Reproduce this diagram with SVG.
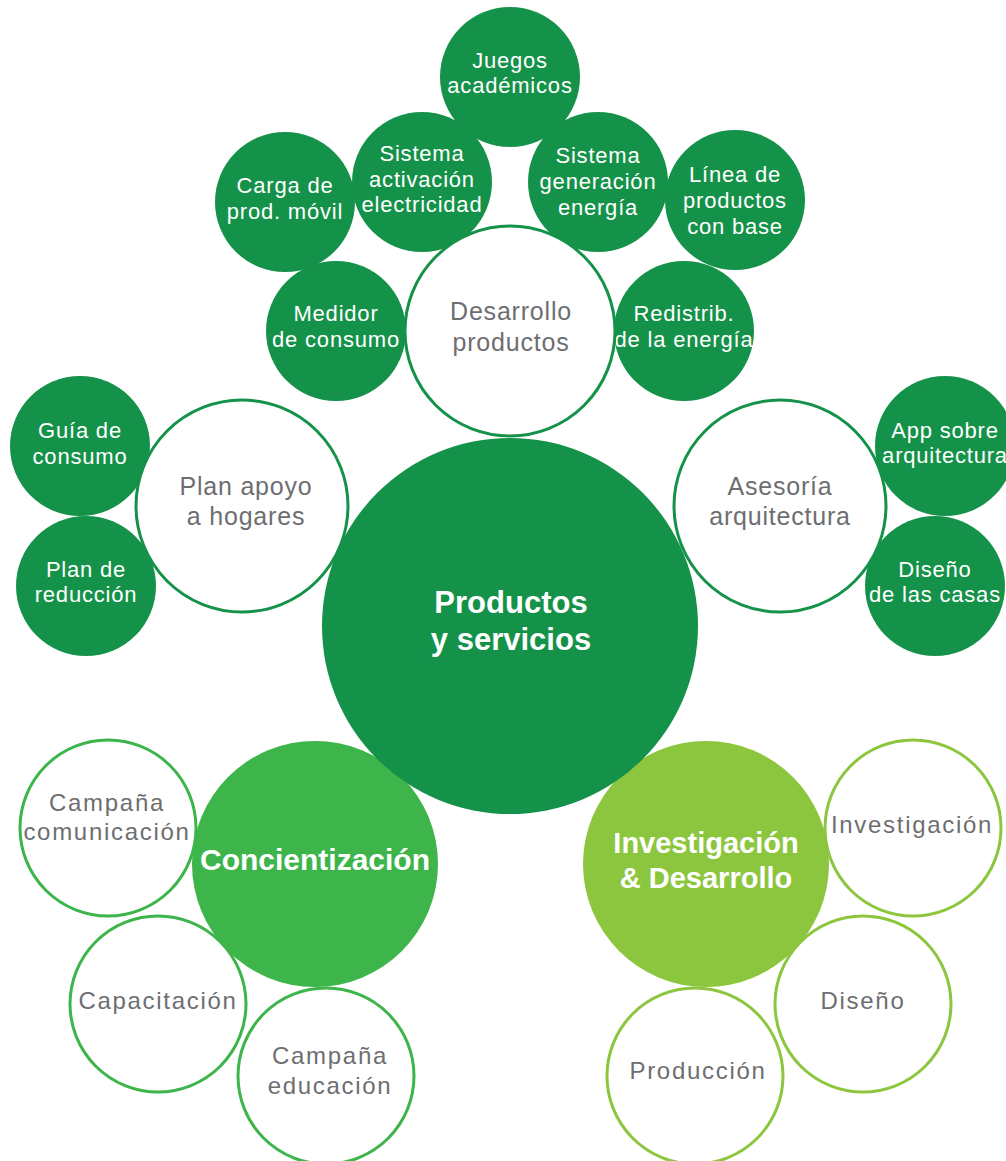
<svg xmlns="http://www.w3.org/2000/svg" width="1006" height="1161" viewBox="0 0 1006 1161">
<style>
text{font-family:"Liberation Sans",Arial,sans-serif;text-anchor:middle}
.dk{fill:#159249}
.md{fill:#3db54b}
.lt{fill:#8cc63f}
.wd{fill:#fff;stroke:#159249;stroke-width:3}
.wm{fill:#fff;stroke:#3db54b;stroke-width:3}
.wl{fill:#fff;stroke:#8cc63f;stroke-width:3}
.s{font-size:22px;fill:#fff;letter-spacing:0.8px}
.m{font-size:25px;fill:#6d6e71;letter-spacing:0.8px}
.b{font-size:24px;fill:#6d6e71;letter-spacing:1.7px}
.h{font-weight:bold;fill:#fff}
</style>
<rect width="1006" height="1161" fill="#fff"/>
<g id="connectors"/>
<g id="juegos"><circle class="dk" cx="510" cy="77" r="70"/><text class="s" x="510" y="68">Juegos</text><text class="s" x="510" y="93">académicos</text></g>
<g id="carga"><circle class="dk" cx="285" cy="202" r="70"/><text class="s" x="285" y="193">Carga de</text><text class="s" x="285" y="219">prod. móvil</text></g>
<g id="linea"><circle class="dk" cx="735" cy="200" r="70"/><text class="s" x="735" y="182">Línea de</text><text class="s" x="735" y="208">productos</text><text class="s" x="735" y="234">con base</text></g>
<g id="sis-activacion"><circle class="dk" cx="422" cy="182" r="70"/><text class="s" x="422" y="161">Sistema</text><text class="s" x="422" y="187">activación</text><text class="s" x="422" y="212">electricidad</text></g>
<g id="sis-generacion"><circle class="dk" cx="598" cy="182" r="70"/><text class="s" x="598" y="163">Sistema</text><text class="s" x="598" y="189">generación</text><text class="s" x="598" y="215">energía</text></g>
<g id="medidor"><circle class="dk" cx="336" cy="331" r="70"/><text class="s" x="336" y="321">Medidor</text><text class="s" x="336" y="347">de consumo</text></g>
<g id="redistrib"><circle class="dk" cx="684" cy="331" r="70"/><text class="s" x="684" y="321">Redistrib.</text><text class="s" x="684" y="347">de la energía</text></g>
<g id="desarrollo"><circle class="wd" cx="510" cy="331" r="105"/><text class="m" x="511" y="320">Desarrollo</text><text class="m" x="511" y="351">productos</text></g>
<g id="guia"><circle class="dk" cx="80" cy="446" r="70"/><text class="s" x="80" y="438">Guía de</text><text class="s" x="80" y="464">consumo</text></g>
<g id="plan-reduccion"><circle class="dk" cx="86" cy="586" r="70"/><text class="s" x="86" y="577">Plan de</text><text class="s" x="86" y="602">reducción</text></g>
<g id="plan-apoyo"><circle class="wd" cx="242" cy="506" r="106"/><text class="m" x="246" y="495">Plan apoyo</text><text class="m" x="246" y="525">a hogares</text></g>
<g id="app"><circle class="dk" cx="945" cy="446" r="70"/><text class="s" x="945" y="438">App sobre</text><text class="s" x="945" y="463">arquitectura</text></g>
<g id="diseno-casas"><circle class="dk" cx="935" cy="586" r="70"/><text class="s" x="935" y="577">Diseño</text><text class="s" x="935" y="602">de las casas</text></g>
<g id="asesoria"><circle class="wd" cx="780" cy="506" r="106"/><text class="m" x="780" y="495">Asesoría</text><text class="m" x="780" y="525">arquitectura</text></g>
<g id="concientizacion"><circle class="md" cx="315" cy="864" r="123"/><text class="h" x="315" y="870" font-size="30">Concientización</text></g>
<g id="id"><circle class="lt" cx="706" cy="864" r="123"/><text class="h" x="706" y="853" font-size="29">Investigación</text><text class="h" x="706" y="888" font-size="29">&amp; Desarrollo</text></g>
<g id="productos-servicios"><circle class="dk" cx="510" cy="626" r="188"/><text class="h" x="511" y="613" font-size="31">Productos</text><text class="h" x="511" y="650" font-size="31">y servicios</text></g>
<g id="campana-com"><circle class="wm" cx="108" cy="828" r="88"/><text class="b" x="107" y="811">Campaña</text><text class="b" x="107" y="840">comunicación</text></g>
<g id="capacitacion"><circle class="wm" cx="158" cy="1004" r="88"/><text class="b" x="158" y="1009">Capacitación</text></g>
<g id="campana-edu"><circle class="wm" cx="326" cy="1076" r="88"/><text class="b" x="330" y="1064">Campaña</text><text class="b" x="330" y="1094">educación</text></g>
<g id="investigacion"><circle class="wl" cx="913" cy="828" r="88"/><text class="b" x="912" y="833">Investigación</text></g>
<g id="diseno"><circle class="wl" cx="863" cy="1004" r="88"/><text class="b" x="863" y="1009">Diseño</text></g>
<g id="produccion"><circle class="wl" cx="695" cy="1076" r="88"/><text class="b" x="698" y="1079">Producción</text></g>
</svg>
